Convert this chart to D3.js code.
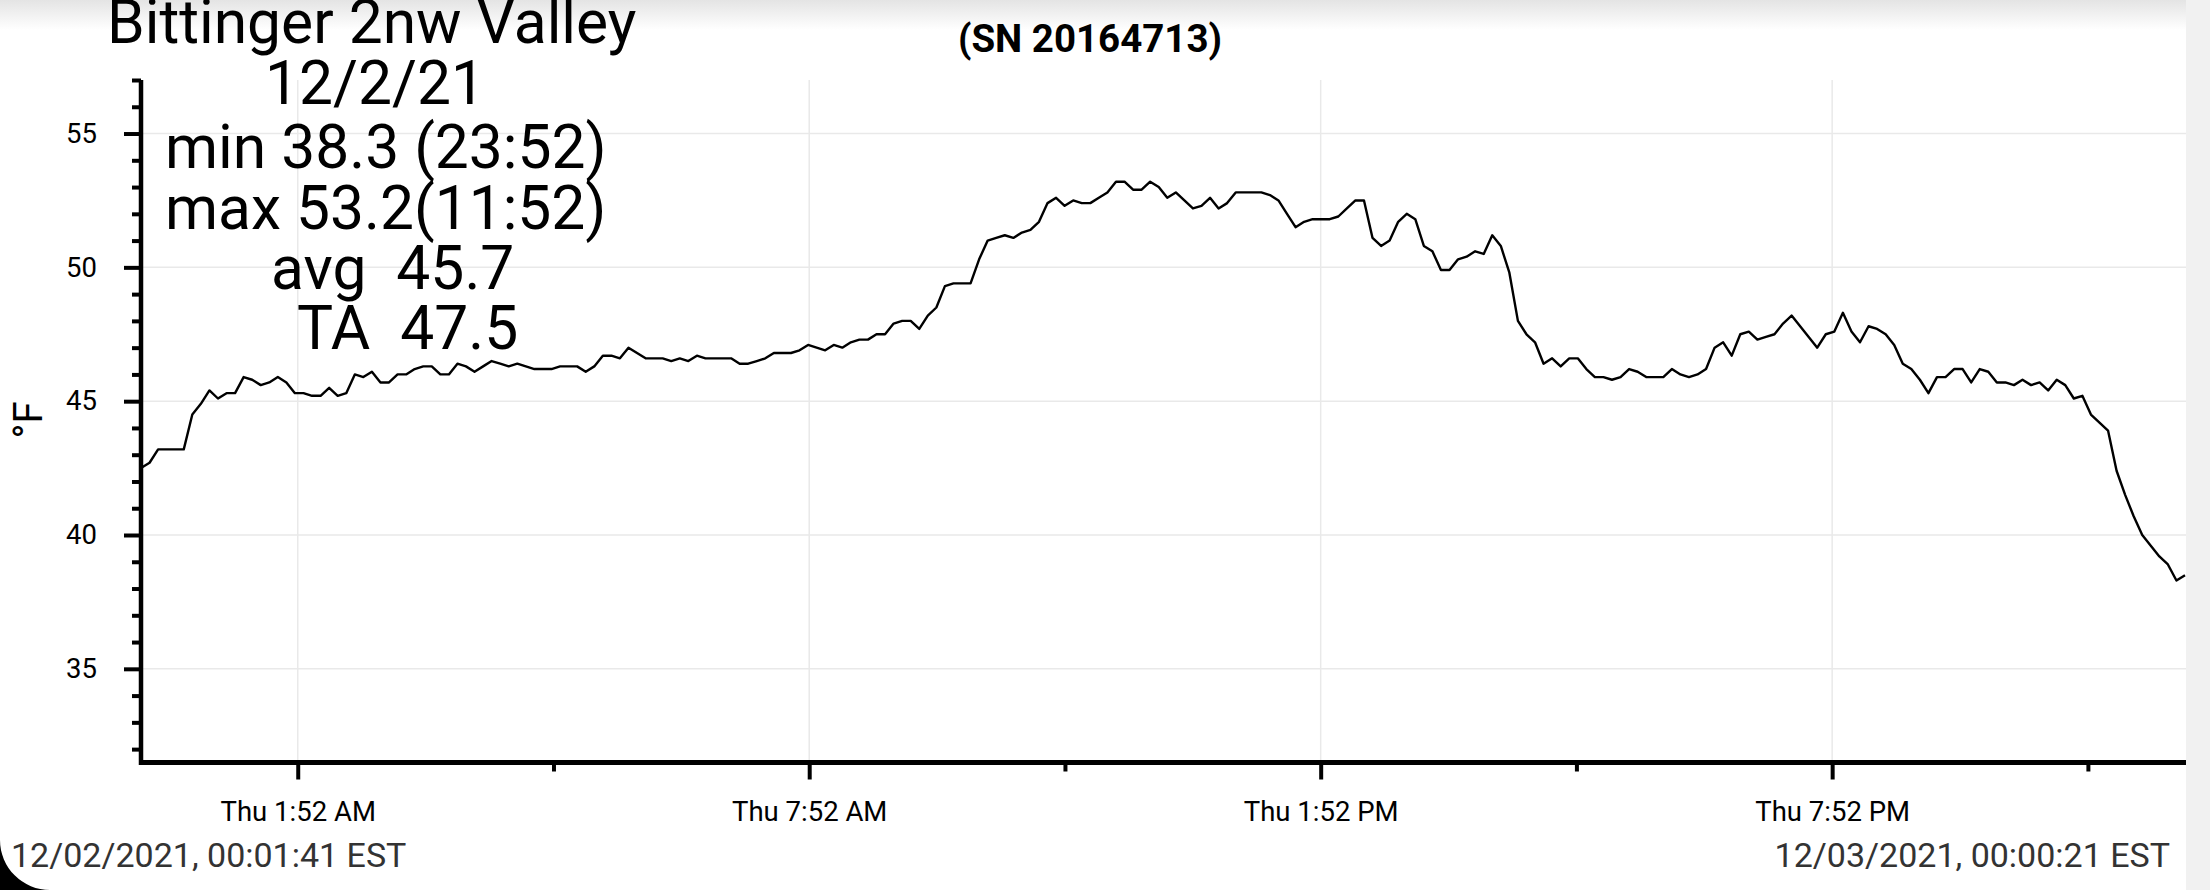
<!DOCTYPE html>
<html>
<head>
<meta charset="utf-8">
<script src="https://cdn.jsdelivr.net/npm/d3@7"></script>
<style>
  html, body { margin: 0; padding: 0; background: #fff; }
  svg { display: block; }
  text { font-family: Roboto, "Noto Sans", sans-serif; }
</style>
</head>
<body>
<svg id="chart" width="2210" height="890"></svg>
<script>
// ---------------- data ----------------
const startTime = "2021-12-02 00:01:41";
const endTime = "2021-12-03 00:00:21";

// temperature readings (°F), evenly sampled between startTime and endTime
const tempF = [
  42.5, 42.7, 43.2, 43.2, 43.2, 43.2, 44.5, 44.9, 45.4, 45.1,
  45.3, 45.3, 45.9, 45.8, 45.6, 45.7, 45.9, 45.7, 45.3, 45.3,
  45.2, 45.2, 45.5, 45.2, 45.3, 46.0, 45.9, 46.1, 45.7, 45.7,
  46.0, 46.0, 46.2, 46.3, 46.3, 46.0, 46.0, 46.4, 46.3, 46.1,
  46.3, 46.5, 46.4, 46.3, 46.4, 46.3, 46.2, 46.2, 46.2, 46.3,
  46.3, 46.3, 46.1, 46.3, 46.7, 46.7, 46.6, 47.0, 46.8, 46.6,
  46.6, 46.6, 46.5, 46.6, 46.5, 46.7, 46.6, 46.6, 46.6, 46.6,
  46.4, 46.4, 46.5, 46.6, 46.8, 46.8, 46.8, 46.9, 47.1, 47.0,
  46.9, 47.1, 47.0, 47.2, 47.3, 47.3, 47.5, 47.5, 47.9, 48.0,
  48.0, 47.7, 48.2, 48.5, 49.3, 49.4, 49.4, 49.4, 50.3, 51.0,
  51.1, 51.2, 51.1, 51.3, 51.4, 51.7, 52.4, 52.6, 52.3, 52.5,
  52.4, 52.4, 52.6, 52.8, 53.2, 53.2, 52.9, 52.9, 53.2,
  53.0, 52.6, 52.8, 52.5, 52.2, 52.3, 52.6, 52.2, 52.4, 52.8,
  52.8, 52.8, 52.8, 52.7, 52.5, 52.0, 51.5, 51.7, 51.8, 51.8,
  51.8, 51.9, 52.2, 52.5, 52.5, 51.1, 50.8, 51.0, 51.7, 52.0,
  51.8, 50.8, 50.6, 49.9, 49.9, 50.3, 50.4, 50.6, 50.5, 51.2,
  50.8, 49.8, 48.0, 47.5, 47.2, 46.4, 46.6, 46.3, 46.6, 46.6,
  46.2, 45.9, 45.9, 45.8, 45.9, 46.2, 46.1, 45.9, 45.9, 45.9,
  46.2, 46.0, 45.9, 46.0, 46.2, 47.0, 47.2, 46.7, 47.5, 47.6,
  47.3, 47.4, 47.5, 47.9, 48.2, 47.8, 47.4, 47.0, 47.5, 47.6,
  48.3, 47.6, 47.2, 47.8, 47.7, 47.5, 47.1, 46.4, 46.2, 45.8,
  45.3, 45.9, 45.9, 46.2, 46.2, 45.7, 46.2, 46.1, 45.7, 45.7,
  45.6, 45.8, 45.6, 45.7, 45.4, 45.8, 45.6, 45.1, 45.2, 44.5,
  44.2, 43.9, 42.4, 41.5, 40.7, 40.0, 39.6, 39.2, 38.9, 38.3,
  38.5
];

const xMajorTicks = ["2021-12-02 01:52:00", "2021-12-02 07:52:00", "2021-12-02 13:52:00", "2021-12-02 19:52:00"];
const xMinorTicks = ["2021-12-02 04:52:00", "2021-12-02 10:52:00", "2021-12-02 16:52:00", "2021-12-02 22:52:00"];
const yMajorTicks = [35, 40, 45, 50, 55];
const yMinorTicks = [32, 33, 34, 36, 37, 38, 39, 41, 42, 43, 44, 46, 47, 48, 49, 51, 52, 53, 54, 56, 57];
const yDomain = [31.5, 57];

const titleLines = ["Bittinger 2nw Valley", "12/2/21", "min 38.3 (23:52)", "max 53.2(11:52)", "avg  45.7", "TA  47.5"];
const serialLabel = "(SN 20164713)";
const yLabel = "°F";
const startLabel = "12/02/2021, 00:01:41 EST";
const endLabel = "12/03/2021, 00:00:21 EST";

// ---------------- drawing ----------------
const W = 2210, H = 890;
const plot = { left: 141, right: 2185, top: 80, bottom: 762.5 };
const parse = d3.timeParse("%Y-%m-%d %H:%M:%S");
const t0 = parse(startTime), t1 = parse(endTime);
const step = (t1 - t0) / (tempF.length - 1);
const series = tempF.map((v, i) => ({ t: new Date(+t0 + i * step), v }));

const svg = d3.select("#chart");
const defs = svg.append("defs");
const grad = defs.append("linearGradient").attr("id", "topShade").attr("x1", 0).attr("y1", 0).attr("x2", 0).attr("y2", 1);
grad.append("stop").attr("offset", 0).attr("stop-color", "#e4e4e4");
grad.append("stop").attr("offset", 1).attr("stop-color", "#ffffff");

svg.append("rect").attr("width", W).attr("height", H).attr("fill", "#fff");
svg.append("rect").attr("width", W).attr("height", 30).attr("fill", "url(#topShade)");

const x = d3.scaleTime().domain([t0, t1]).range([plot.left, plot.right]);
const y = d3.scaleLinear().domain(yDomain).range([plot.bottom, plot.top]);

// grid
const grid = svg.append("g").attr("stroke", "#e9e9e9").attr("stroke-width", 1.5);
grid.selectAll("line.h").data(yMajorTicks).join("line")
  .attr("x1", plot.left).attr("x2", 2186).attr("y1", d => y(d)).attr("y2", d => y(d));
grid.selectAll("line.v").data(xMajorTicks.map(parse)).join("line")
  .attr("x1", d => x(d)).attr("x2", d => x(d)).attr("y1", plot.top).attr("y2", plot.bottom);

// line
svg.append("path").datum(series)
  .attr("fill", "none").attr("stroke", "#000").attr("stroke-width", 2.4).attr("stroke-linejoin", "round")
  .attr("d", d3.line().x(d => x(d.t)).y(d => y(d.v)));

// axes
const fmt = d3.timeFormat("%a %-I:%M %p");
function styleAxis(g) {
  g.select(".domain").remove();
  g.selectAll(".tick line").attr("stroke", "#000").attr("stroke-width", 4);
  g.selectAll(".tick text").attr("fill", "#000").style("font-family", "Roboto").style("font-size", "27.5px");
}
svg.append("g").attr("transform", `translate(0,${plot.bottom})`)
  .call(d3.axisBottom(x).tickValues(xMajorTicks.map(parse)).tickSize(17).tickPadding(22).tickFormat(fmt))
  .call(styleAxis);
svg.append("g").attr("transform", `translate(0,${plot.bottom})`)
  .call(d3.axisBottom(x).tickValues(xMinorTicks.map(parse)).tickSize(9).tickFormat(""))
  .call(styleAxis);
svg.append("g").attr("transform", `translate(${plot.left},0)`)
  .call(d3.axisLeft(y).tickValues(yMajorTicks).tickSize(17).tickPadding(27).tickFormat(d3.format("d")))
  .call(styleAxis);
svg.append("g").attr("transform", `translate(${plot.left},0)`)
  .call(d3.axisLeft(y).tickValues(yMinorTicks).tickSize(9).tickFormat(""))
  .call(styleAxis);

// axis lines
svg.append("line").attr("x1", plot.left).attr("x2", plot.left).attr("y1", plot.top).attr("y2", plot.bottom + 2.5)
  .attr("stroke", "#000").attr("stroke-width", 4.5);
svg.append("line").attr("x1", plot.left - 2).attr("x2", 2186).attr("y1", plot.bottom).attr("y2", plot.bottom)
  .attr("stroke", "#000").attr("stroke-width", 5);

// y label
svg.append("text").attr("transform", "translate(42,420) rotate(-90)")
  .attr("text-anchor", "middle").style("font-size", "40px").attr("fill", "#000").text(yLabel);

// title block
const titleX = [107, 265, 165, 165, 271, 297];
const titleY = [43, 104, 168, 229, 289, 349];
svg.append("g").selectAll("text").data(titleLines).join("text")
  .attr("x", (d, i) => titleX[i]).attr("y", (d, i) => titleY[i])
  .style("font-size", "60.5px").attr("fill", "#000").style("white-space", "pre").attr("xml:space", "preserve")
  .text(d => d);

svg.append("text").attr("x", 1090).attr("y", 52).attr("text-anchor", "middle")
  .style("font-size", "38.5px").style("font-weight", "bold").attr("fill", "#000").text(serialLabel);

// footer timestamps
svg.append("text").attr("x", 11).attr("y", 867).style("font-size", "34px").attr("fill", "#333").text(startLabel);
svg.append("text").attr("x", 2170).attr("y", 867).attr("text-anchor", "end").style("font-size", "34px").attr("fill", "#333").text(endLabel);

// right band and rounded corner
svg.append("rect").attr("x", 2186).attr("y", 0).attr("width", W - 2186).attr("height", H).attr("fill", "#f1f1f1");
svg.append("path").attr("d", "M0,840 A50,50 0 0 0 50,890 L0,890 Z").attr("fill", "#000");
</script>
</body>
</html>
